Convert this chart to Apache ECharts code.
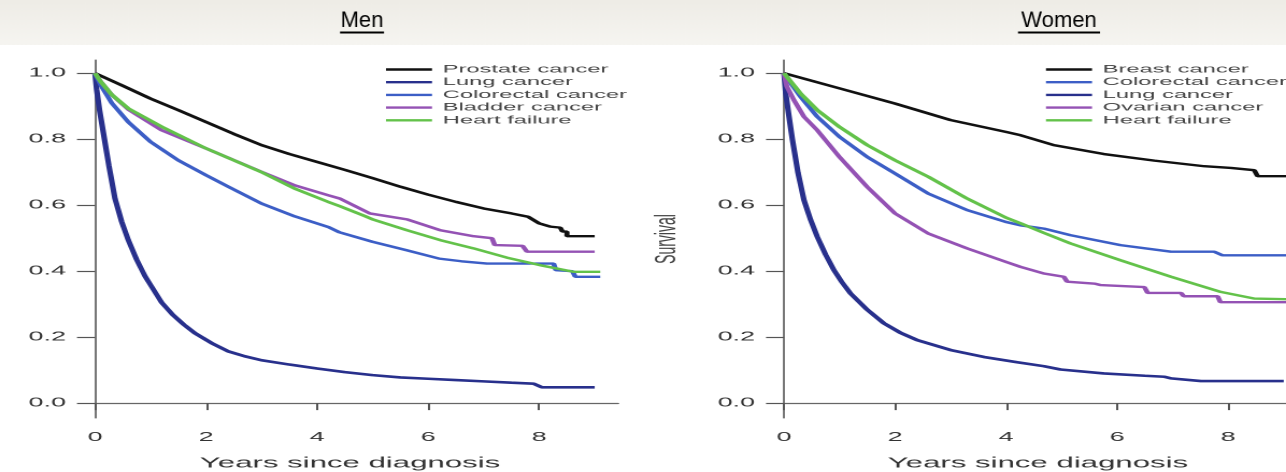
<!DOCTYPE html>
<html>
<head>
<meta charset="utf-8">
<script src="https://cdn.jsdelivr.net/npm/echarts@6/dist/echarts.min.js"></script>
<style>
html,body{margin:0;padding:0;background:#fff;overflow:hidden;}
#wrap{position:absolute;left:0;top:0;width:1286px;height:472px;overflow:hidden;}
#c{width:598px;height:472px;transform-origin:0 0;}
</style>
</head>
<body>
<div id="wrap"><div id="c"></div></div>
<script>
// ---- data (years since diagnosis, survival) ----
const panelTitles = ['Men', 'Women'];
const xTicks = [0, 2, 4, 6, 8];
const yTicks = [0, 0.2, 0.4, 0.6, 0.8, 1.0];
const menNames = ['Prostate cancer', 'Lung cancer', 'Colorectal cancer', 'Bladder cancer', 'Heart failure'];
const womenNames = ['Breast cancer', 'Colorectal cancer', 'Lung cancer', 'Ovarian cancer', 'Heart failure'];

const prostateMen = [[0,1],[0.5,0.962],[1,0.923],[1.5,0.888],[2,0.852],[2.5,0.816],[3,0.782],[3.5,0.755],[4,0.731],[4.5,0.707],[5,0.682],[5.5,0.656],[6,0.632],[6.5,0.61],[7,0.59],[7.5,0.575],[7.8,0.565],[8.0,0.545],[8.2,0.535],[8.38,0.532],[8.42,0.52],[8.5,0.52],[8.5,0.506],[9.0,0.506]];
const lungMen = [[0,1],[0.03,0.95],[0.08,0.89],[0.15,0.82],[0.25,0.72],[0.36,0.62],[0.48,0.55],[0.6,0.494],[0.75,0.435],[0.9,0.385],[1.05,0.345],[1.2,0.305],[1.4,0.268],[1.6,0.238],[1.8,0.212],[2.1,0.182],[2.4,0.157],[2.7,0.142],[3.0,0.13],[3.5,0.117],[4.0,0.105],[4.5,0.094],[5.0,0.085],[5.5,0.078],[6.0,0.074],[6.5,0.07],[7.0,0.066],[7.5,0.062],[7.9,0.059],[8.05,0.048],[9.0,0.048]];
const colorectalMen = [[0,1],[0.1,0.965],[0.3,0.91],[0.6,0.852],[1.0,0.792],[1.5,0.736],[2.0,0.691],[2.4,0.656],[3.0,0.605],[3.6,0.566],[4.2,0.534],[4.4,0.518],[5.0,0.489],[5.6,0.464],[6.2,0.438],[6.6,0.43],[7.06,0.423],[8.26,0.423],[8.3,0.403],[8.6,0.4],[8.65,0.383],[9.1,0.383]];
const bladderMen = [[0,1],[0.1,0.975],[0.3,0.935],[0.6,0.89],[1.2,0.827],[2.0,0.772],[3.0,0.701],[3.6,0.66],[4.2,0.63],[4.41,0.62],[4.95,0.575],[5.62,0.557],[6.22,0.524],[6.82,0.506],[7.15,0.5],[7.2,0.479],[7.7,0.477],[7.78,0.459],[9.0,0.459]];
const heartMen = [[0,1],[0.1,0.975],[0.3,0.935],[0.6,0.893],[1.2,0.838],[2.0,0.772],[3.0,0.70],[3.6,0.65],[4.2,0.61],[4.41,0.597],[4.86,0.567],[5.0,0.557],[5.62,0.524],[6.22,0.494],[6.82,0.469],[7.42,0.441],[8.02,0.418],[8.62,0.398],[9.1,0.398]];

const breastWomen = [[0,1],[1,0.954],[2,0.908],[3,0.858],[4,0.822],[4.26,0.812],[4.86,0.782],[5.76,0.755],[6.67,0.735],[7.57,0.718],[8.05,0.713],[8.47,0.706],[8.53,0.688],[9.1,0.688]];
const colorectalWomen = [[0,1],[0.1,0.975],[0.3,0.928],[0.6,0.868],[1.0,0.807],[1.5,0.746],[2.0,0.696],[2.6,0.635],[3.3,0.585],[4.0,0.549],[4.26,0.539],[4.68,0.529],[5.16,0.509],[6.06,0.479],[6.97,0.459],[7.75,0.459],[7.9,0.448],[9.1,0.448]];
const lungWomen = [[0,1],[0.03,0.94],[0.08,0.88],[0.15,0.8],[0.25,0.7],[0.36,0.615],[0.48,0.555],[0.6,0.504],[0.75,0.45],[0.9,0.403],[1.05,0.365],[1.2,0.332],[1.5,0.283],[1.8,0.242],[2.1,0.213],[2.4,0.191],[3.0,0.161],[3.6,0.14],[4.2,0.124],[4.68,0.112],[4.98,0.102],[5.76,0.09],[6.5,0.083],[6.85,0.08],[6.97,0.075],[7.51,0.067],[9.0,0.067]];
const ovarianWomen = [[0,1],[0.05,0.96],[0.18,0.918],[0.36,0.868],[0.6,0.827],[1.0,0.746],[1.5,0.655],[2.0,0.575],[2.6,0.514],[3.3,0.469],[4.0,0.428],[4.26,0.413],[4.68,0.393],[5.04,0.383],[5.1,0.368],[5.6,0.362],[5.7,0.358],[6.49,0.352],[6.55,0.334],[7.15,0.334],[7.2,0.324],[7.81,0.324],[7.86,0.306],[9.1,0.306]];
const heartWomen = [[0,1],[0.3,0.938],[0.6,0.888],[1.0,0.837],[1.5,0.782],[2.0,0.736],[2.6,0.686],[3.3,0.62],[4.0,0.562],[4.26,0.545],[4.68,0.516],[5.16,0.484],[6.06,0.433],[6.97,0.383],[7.87,0.337],[8.47,0.317],[9.1,0.315]];

// ---- styling / layout ----
const W0 = 598, S = 1286 / W0;      // reference image is stretched horizontally
document.getElementById('c').style.transform = 'scaleX(' + S + ')';
const ux = px => px / S;
const FONT = '"Liberation Sans", Arial, Helvetica, sans-serif';
const COL = {black:'#111111', lung:'#28308c', colorectal:'#3c5ec6', purple:'#9452b4', green:'#63c24a'};

const chart = echarts.init(document.getElementById('c'), null, {renderer:'canvas', devicePixelRatio:2});

function xAxis(gi, nameShift){
  return {
    type:'value', gridIndex:gi, min:0, max:9.42,
    axisLine:{show:true, lineStyle:{color:'#666', width:1.2}},
    axisTick:{show:true, customValues:xTicks, length:7, lineStyle:{color:'#555', width:1}},
    axisLabel:{customValues:xTicks, fontSize:12.5, color:'#333', fontFamily:FONT, margin:13},
    splitLine:{show:false},
    name:'Years since diagnosis', nameLocation:'middle', nameGap:38,
    nameTextStyle:{fontSize:14.5, color:'#333', fontFamily:FONT, padding:[0, nameShift, 0, 0]}
  };
}
function yAxis(gi, name){
  return {
    type:'value', gridIndex:gi, min:-0.045, max:1.04,
    axisLine:{show:true, lineStyle:{color:'#777', width:1}},
    axisTick:{show:true, customValues:yTicks, length:ux(18), lineStyle:{color:'#555', width:1.2}},
    axisLabel:{customValues:yTicks, formatter:v => v.toFixed(1), fontSize:12.5, color:'#333', fontFamily:FONT, margin:13.5},
    splitLine:{show:false},
    name:name, nameLocation:'middle', nameRotate:90, nameGap:47.5,
    nameTextStyle:{fontSize:14, color:'#444', fontFamily:FONT}
  };
}
function line(name, data, color, gi, w){
  return {type:'line', name:name, data:data, xAxisIndex:gi, yAxisIndex:gi, symbol:'none', showSymbol:false,
    lineStyle:{color:color, width:w||2.4}, itemStyle:{color:color}, emphasis:{disabled:true}, animation:false};
}
function legend(leftPx, names){
  return {orient:'vertical', left:ux(leftPx), top:63.5, data:names, icon:'rect', itemWidth:ux(46), itemHeight:2.4, itemGap:0.7,
    padding:0, selectedMode:false, textStyle:{fontSize:11, lineHeight:12, color:'#444', fontFamily:FONT}};
}
function title(text, cx, cy, halfW){
  return [
    {type:'text', x:ux(cx), y:cy, scaleX:1/S, silent:true,
     style:{text:text, fontSize:22, fontFamily:FONT, fill:'#000', align:'center', verticalAlign:'middle'}},
    {type:'line', silent:true, shape:{x1:ux(cx-halfW), y1:32.5, x2:ux(cx+halfW), y2:32.5}, style:{stroke:'#000', lineWidth:2}}
  ];
}

chart.setOption({
  backgroundColor:'#ffffff',
  animation:false,
  grid:[
    {left:ux(95), width:ux(523), top:60, bottom:54, outerBoundsMode:'none', containLabel:false},
    {left:ux(784), width:ux(523), top:60, bottom:54, outerBoundsMode:'none', containLabel:false}
  ],
  xAxis:[xAxis(0, 6), xAxis(1, 7)],
  yAxis:[yAxis(0, ''), yAxis(1, 'Survival')],
  legend:[legend(386, menNames), legend(1046, womenNames)],
  graphic:[
    {type:'rect', silent:true, z:-10, shape:{x:0, y:0, width:W0, height:45},
     style:{fill:new echarts.graphic.LinearGradient(0,0,0,1,[{offset:0,color:'#eeece6'},{offset:1,color:'#f6f5f1'}])}},
  ].concat(title(panelTitles[0], 362, 21, 22), title(panelTitles[1], 1059, 21, 41)),
  series:[
    line(menNames[0], prostateMen, COL.black, 0),
    line(menNames[1], lungMen, COL.lung, 0, 2.6),
    line(menNames[2], colorectalMen, COL.colorectal, 0),
    line(menNames[3], bladderMen, COL.purple, 0),
    line(menNames[4], heartMen, COL.green, 0),
    line(womenNames[0], breastWomen, COL.black, 1),
    line(womenNames[1], colorectalWomen, COL.colorectal, 1),
    line(womenNames[2], lungWomen, COL.lung, 1, 2.6),
    line(womenNames[3], ovarianWomen, COL.purple, 1),
    line(womenNames[4], heartWomen, COL.green, 1)
  ]
});
</script>
</body>
</html>
